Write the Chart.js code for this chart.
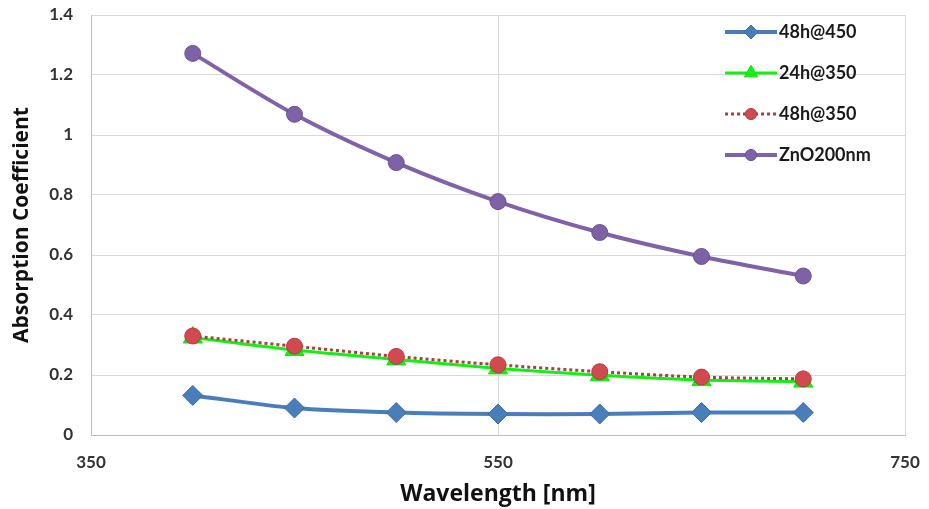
<!DOCTYPE html>
<html>
<head>
<meta charset="utf-8">
<script src="https://cdn.jsdelivr.net/npm/chart.js@4"></script>
<style>
  html, body { margin: 0; padding: 0; background: #fff; }
  #wrap { width: 929px; height: 509px; }
</style>
</head>
<body>
<div id="wrap"><canvas id="absgraph" width="929" height="509"></canvas></div>
<script>
var absctx = document.getElementById("absgraph");

// data
const wavelengths = [400, 450, 500, 550, 600, 650, 700];
const s48h450 = [0.132, 0.090, 0.075, 0.070, 0.070, 0.075, 0.075];
const s24h350 = [0.325, 0.283, 0.252, 0.222, 0.199, 0.183, 0.178];
const s48h350 = [0.330, 0.296, 0.262, 0.234, 0.211, 0.193, 0.187];
const zno200 = [1.272, 1.069, 0.908, 0.778, 0.675, 0.595, 0.530];
const seriesNames = ["48h@450", "24h@350", "48h@350", "ZnO200nm"];
const xTicks = [350, 550, 750];
const yTicks = [0, 0.2, 0.4, 0.6, 0.8, 1, 1.2, 1.4];

const fontFam = "Lato, 'Open Sans', sans-serif";
const titleFam = "'Open Sans', Lato, sans-serif";

function pts(vals) {
    return vals.map((v, i) => ({ x: wavelengths[i], y: v }));
}

// legend drawn inside the plot, line with marker like the original
const legendBox = {
    id: 'legendBox',
    afterDatasetsDraw(chart) {
        const ctx = chart.ctx;
        const x0 = 725, x1 = 777, tx = 779;
        const ys = [32, 73, 114, 155];
        chart.data.datasets.forEach((ds, i) => {
            const y = ys[i];
            ctx.save();
            ctx.strokeStyle = ds.borderColor;
            ctx.lineWidth = ds.borderWidth;
            ctx.setLineDash(ds.borderDash || []);
            ctx.beginPath();
            ctx.moveTo(x0, y);
            ctx.lineTo(x1, y);
            ctx.stroke();
            ctx.setLineDash([]);
            ctx.fillStyle = ds.pointBackgroundColor;
            ctx.strokeStyle = ds.pointBorderColor;
            ctx.lineWidth = 1;
            Chart.helpers.drawPoint(ctx, {
                pointStyle: ds.pointStyle,
                radius: ds.pointRadius * 0.7,
                rotation: 0,
                borderWidth: 1
            }, (x0 + x1) / 2, y);
            ctx.fillStyle = "#1a1a1a";
            ctx.font = "bold 18px " + fontFam;
            ctx.textBaseline = "middle";
            ctx.textAlign = "left";
            ctx.fillText(seriesNames[i], tx, y);
            ctx.restore();
        });
    }
};

var absChart = new Chart(absctx, {
    type: 'line',
    data: {
        datasets: [
            {
                label: seriesNames[0],
                data: pts(s48h450),
                borderColor: "#4a7ebb",
                backgroundColor: "#4a7ebb",
                borderWidth: 4,
                pointStyle: 'rectRot',
                pointRadius: 10,
                pointBackgroundColor: "#4a7ebb",
                pointBorderColor: "#3d6ba3",
                pointBorderWidth: 1,
                tension: 0.3,
                order: 4
            },
            {
                label: seriesNames[1],
                data: pts(s24h350),
                borderColor: "#11f011",
                backgroundColor: "#11f011",
                borderWidth: 3,
                pointStyle: 'triangle',
                pointRadius: 11,
                pointBackgroundColor: "#11f011",
                pointBorderColor: "#11e011",
                pointBorderWidth: 1,
                tension: 0.3,
                order: 3
            },
            {
                label: seriesNames[2],
                data: pts(s48h350),
                borderColor: "#a8403f",
                backgroundColor: "#a8403f",
                borderWidth: 3,
                borderDash: [3, 3],
                pointStyle: 'circle',
                pointRadius: 8,
                pointBackgroundColor: "#d04a50",
                pointBorderColor: "#b04044",
                pointBorderWidth: 1,
                tension: 0.3,
                order: 2
            },
            {
                label: seriesNames[3],
                data: pts(zno200),
                borderColor: "#7f63a6",
                backgroundColor: "#7f63a6",
                borderWidth: 4,
                pointStyle: 'circle',
                pointRadius: 8,
                pointBackgroundColor: "#7d62a8",
                pointBorderColor: "#6a5290",
                pointBorderWidth: 1,
                tension: 0.3,
                order: 1
            }
        ]
    },
    options: {
        responsive: false,
        animation: false,
        layout: { padding: { left: 0, right: 24, top: 15, bottom: 0 } },
        plugins: {
            legend: { display: false },
            tooltip: { enabled: false }
        },
        scales: {
            x: {
                type: 'linear',
                min: 350,
                max: 750,
                afterBuildTicks: (s) => { s.ticks = xTicks.map(v => ({ value: v })); },
                afterFit: (s) => { s.height = 74; s.paddingLeft = 0; s.paddingRight = 0; },
                grid: { color: "#d9d9d9", lineWidth: 1, drawTicks: false },
                border: { color: "#bfbfbf", width: 1 },
                ticks: {
                    padding: 17,
                    color: "#333",
                    font: { family: fontFam, size: 17, weight: 'bold' }
                },
                title: {
                    display: true,
                    text: "Wavelength [nm]",
                    color: "#111",
                    font: { family: titleFam, size: 23, weight: 'bold' },
                    padding: { top: 0, bottom: 1 }
                }
            },
            y: {
                min: 0,
                max: 1.4,
                afterBuildTicks: (s) => { s.ticks = yTicks.map(v => ({ value: v })); },
                afterFit: (s) => { s.width = 91; s.paddingTop = 0; s.paddingBottom = 0; },
                grid: { color: "#d9d9d9", lineWidth: 1, drawTicks: false },
                border: { color: "#bfbfbf", width: 1 },
                ticks: {
                    padding: 18,
                    color: "#333",
                    font: { family: fontFam, size: 17, weight: 'bold' },
                    callback: (v) => String(Math.round(v * 10) / 10)
                },
                title: {
                    display: true,
                    text: "Absorption Coefficient",
                    color: "#111",
                    font: { family: titleFam, size: 21, weight: 'bold' },
                    padding: { top: 9, bottom: 0 }
                }
            }
        }
    },
    plugins: [legendBox]
});
</script>
</body>
</html>
